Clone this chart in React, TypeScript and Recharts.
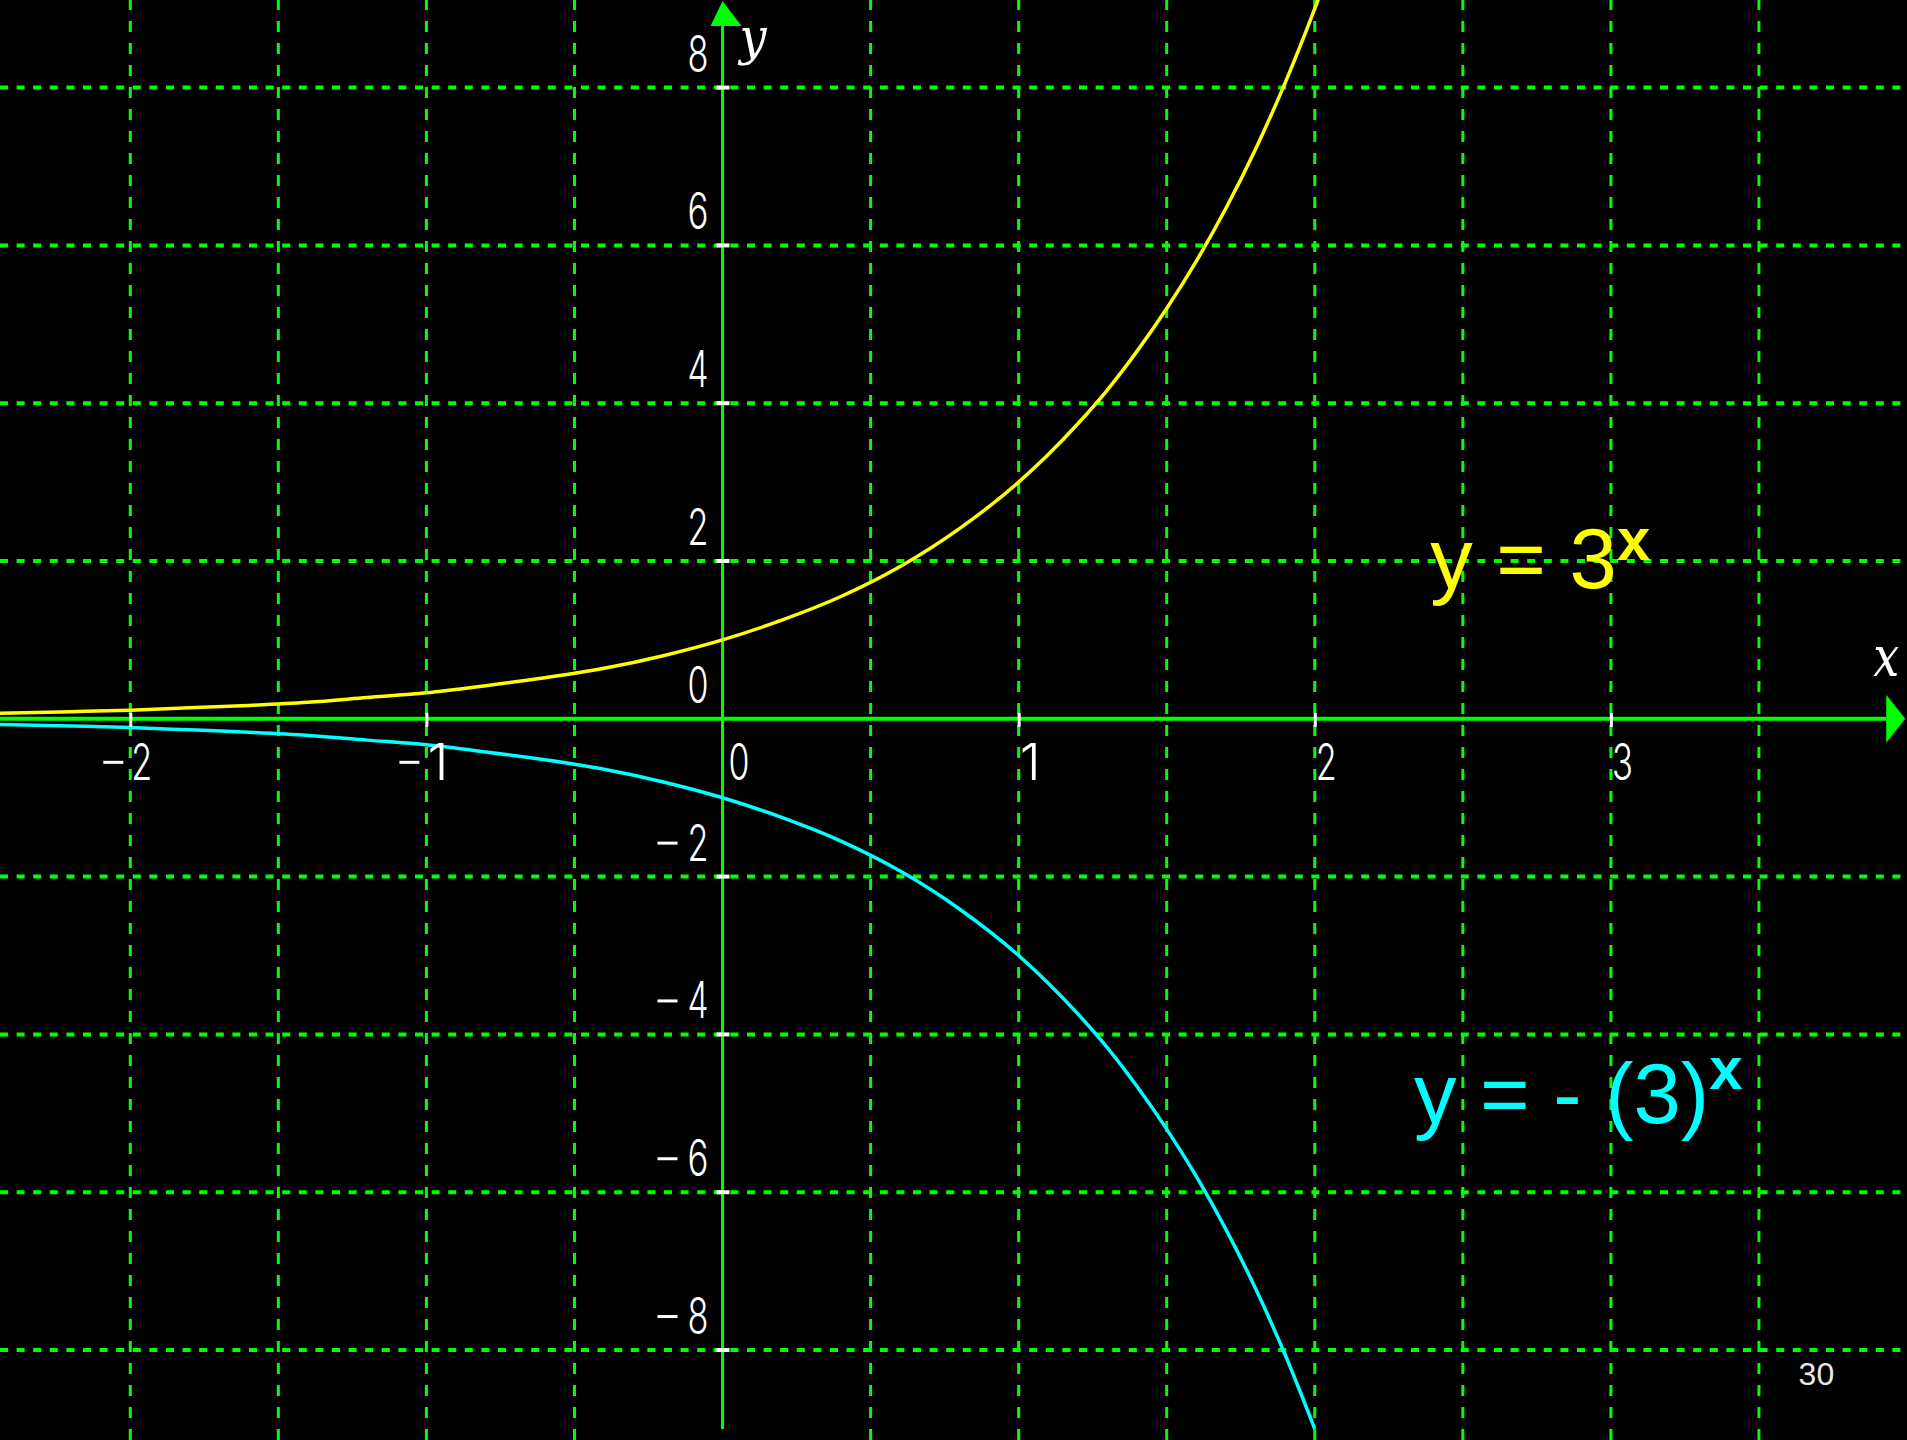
import React from "react";
import { LineChart, Line, XAxis, YAxis, ReferenceLine, ReferenceDot } from "recharts";

// visible window of the plot, in data units
const X_MIN = -2.44;
const X_MAX = 4.0;
const Y_MIN = -9.14;
const Y_MAX = 9.11;

// values
const curveX = [
  -2.46, -2.2, -2.0, -1.8, -1.6, -1.4, -1.2, -1.0, -0.8, -0.6, -0.4, -0.2, 0, 0.2, 0.4, 0.6,
  0.8, 1.0, 1.1, 1.2, 1.3, 1.4, 1.5, 1.6, 1.7, 1.8, 1.9, 2.0, 2.02,
];
const yellowY = [
  0.07, 0.09, 0.11, 0.14, 0.17, 0.21, 0.27, 0.33, 0.42, 0.52, 0.64, 0.8, 1.0, 1.25, 1.55, 1.93,
  2.41, 3.0, 3.35, 3.74, 4.17, 4.66, 5.2, 5.8, 6.47, 7.22, 8.06, 9.0, 9.2,
];
const cyanY = [
  -0.07, -0.09, -0.11, -0.14, -0.17, -0.21, -0.27, -0.33, -0.42, -0.52, -0.64, -0.8, -1.0, -1.25,
  -1.55, -1.93, -2.41, -3.0, -3.35, -3.74, -4.17, -4.66, -5.2, -5.8, -6.47, -7.22, -8.06, -9.0,
];

const xGrid = [-2, -1.5, -1, -0.5, 0.5, 1, 1.5, 2, 2.5, 3, 3.5];
const yGrid = [-8, -6, -4, -2, 2, 4, 6, 8];
const xTicks = [-2, -1, 0, 1, 2, 3];
const yTicks = [8, 6, 4, 2, 0, -2, -4, -6, -8];

const yellowData = curveX.map((x, i) => ({ x, y: yellowY[i] }));
const cyanData = cyanY.map((y, i) => ({ x: curveX[i], y }));

const GREEN = "#00ff00";

const Digits = ({ x, y, text }: { x: number; y: number; text: string }) => (
  <text
    x={x}
    y={y}
    fontFamily="Inter"
    fontWeight={300}
    fontSize={50}
    fill="#fff"
    textLength={text.length * 21}
    lengthAdjust="spacingAndGlyphs"
  >
    {text}
  </text>
);

const xTickShape = (v: number) => (p: any) => {
  const { cx, cy } = p;
  return (
    <g>
      {v !== 0 && <rect x={cx - 1} y={cy - 6} width={3} height={14} fill="#fff" />}
      {v < 0 && <rect x={cx - 27} y={cy + 42} width={20} height={3} fill="#fff" />}
      <Digits x={cx + (v === 0 ? 6 : 1)} y={cy + 61} text={String(Math.abs(v))} />
    </g>
  );
};

const yTickShape = (v: number) => (p: any) => {
  const { cx, cy } = p;
  return (
    <g>
      {v !== 0 && <rect x={cx - 6} y={cy - 2} width={13} height={4} fill="#fff" />}
      {v < 0 && <rect x={cx - 65} y={cy - 35} width={20} height={3} fill="#fff" />}
      <Digits x={cx - 35} y={cy - 16} text={String(Math.abs(v))} />
    </g>
  );
};

const yArrow = (p: any) => {
  const { cx, cy } = p;
  return (
    <g>
      <polygon points={`${cx},${cy + 1} ${cx - 12},${cy + 26} ${cx + 19},${cy + 26}`} fill={GREEN} />
      <text
        x={cx + 17}
        y={cy + 54}
        fontFamily="DejaVu Serif"
        fontStyle="italic"
        fontSize={50}
        fill="#fff"
        textLength={27}
        lengthAdjust="spacingAndGlyphs"
      >
        y
      </text>
    </g>
  );
};

const xArrow = (p: any) => {
  const { cx, cy } = p;
  return (
    <g>
      <polygon points={`${cx},${cy - 24} ${cx},${cy + 24} ${cx + 19},${cy}`} fill={GREEN} />
      <text
        x={cx - 13}
        y={cy - 43}
        fontFamily="DejaVu Serif"
        fontStyle="italic"
        fontSize={56}
        fill="#fff"
        textLength={26}
        lengthAdjust="spacingAndGlyphs"
      >
        x
      </text>
    </g>
  );
};

const formula = (color: string, body: string, supDy: number) => (p: any) => (
  <text x={p.cx} y={p.cy} fontFamily="Liberation Sans, Arial" fontSize={85} fill={color}>
    {body}
    <tspan fontSize={60} fontWeight="bold" dy={-supDy}>
      x
    </tspan>
  </text>
);

const pageNo = (p: any) => (
  <text x={p.cx} y={p.cy} fontFamily="Liberation Sans, Arial" fontSize={32} fill="#e8e8e8">
    30
  </text>
);

export default function App() {
  return (
    <div style={{ position: "absolute", left: 0, top: 0, width: 1907, height: 1440, background: "#000" }}>
      <LineChart width={1907} height={1440} margin={{ top: 0, right: 0, bottom: 0, left: 0 }}>
        <XAxis type="number" dataKey="x" domain={[X_MIN, X_MAX]} allowDataOverflow hide />
        <YAxis type="number" dataKey="y" domain={[Y_MIN, Y_MAX]} allowDataOverflow hide />

        {xGrid.map((v) => (
          <ReferenceLine key={`gx${v}`} x={v} stroke={GREEN} strokeWidth={3} strokeDasharray="11 11" />
        ))}
        {yGrid.map((v) => (
          <ReferenceLine key={`gy${v}`} y={v} stroke={GREEN} strokeWidth={4} strokeDasharray="8 8.6" />
        ))}

        {/* axes */}
        <ReferenceLine
          segment={[
            { x: 0, y: -9.0 },
            { x: 0, y: 8.78 },
          ]}
          stroke={GREEN}
          strokeWidth={3}
        />
        <ReferenceLine
          segment={[
            { x: X_MIN, y: 0 },
            { x: 3.93, y: 0 },
          ]}
          stroke={GREEN}
          strokeWidth={4}
        />

        <Line
          data={yellowData}
          dataKey="y"
          type="monotone"
          stroke="#ffff00"
          strokeWidth={3.5}
          dot={false}
          activeDot={false}
          isAnimationActive={false}
        />
        <Line
          data={cyanData}
          dataKey="y"
          type="monotone"
          stroke="#00ffff"
          strokeWidth={3.5}
          dot={false}
          activeDot={false}
          isAnimationActive={false}
        />

        {xTicks.map((v) => (
          <ReferenceDot key={`tx${v}`} x={v} y={0} r={0} ifOverflow="visible" shape={xTickShape(v)} />
        ))}
        {yTicks.map((v) => (
          <ReferenceDot key={`ty${v}`} x={0} y={v} r={0} ifOverflow="visible" shape={yTickShape(v)} />
        ))}
        <ReferenceDot x={0} y={Y_MAX} r={0} ifOverflow="visible" shape={yArrow} />
        <ReferenceDot x={3.93} y={0} r={0} ifOverflow="visible" shape={xArrow} />

        <ReferenceDot x={2.39} y={1.66} r={0} ifOverflow="visible" shape={formula("#ffff00", "y = 3", 28)} />
        <ReferenceDot x={2.335} y={-5.12} r={0} ifOverflow="visible" shape={formula("#00ffff", "y = - (3)", 34)} />
        <ReferenceDot x={3.634} y={-8.44} r={0} ifOverflow="visible" shape={pageNo} />
      </LineChart>
    </div>
  );
}
